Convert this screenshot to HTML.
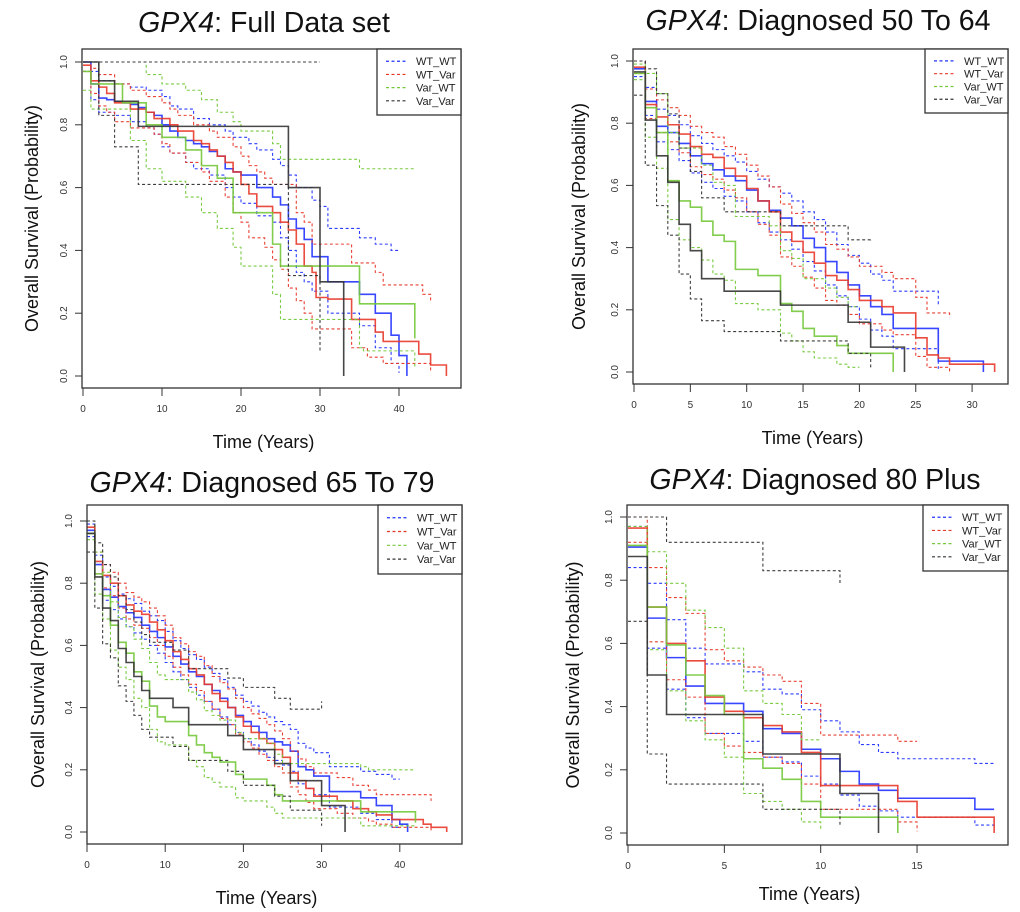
<!DOCTYPE html>
<html><head><meta charset="utf-8"><style>
html,body{margin:0;padding:0;background:#fff;}
svg{display:block;}
.tt{font-family:"Liberation Sans",sans-serif;font-size:28.5px;fill:#111;}
.ax{font-family:"Liberation Sans",sans-serif;font-size:18px;fill:#111;}
.tk{font-family:"Liberation Sans",sans-serif;font-size:10px;fill:#333;}
.lg{font-family:"Liberation Sans",sans-serif;font-size:11px;fill:#222;}
</style></head><body>
<svg id="chart" width="1020" height="912" viewBox="0 0 1020 912" xmlns="http://www.w3.org/2000/svg"></svg>
<script>
// ---- Panel 1: Full data set ----
const p1_WTWT = [[0,1],[1,0.93],[2,0.885],[3,0.88],[4,0.875],[5,0.87],[6,0.865],[7,0.855],[8,0.84],[9,0.83],[10,0.8],[11,0.78],[12,0.76],[13,0.75],[14,0.74],[15,0.73],[16,0.715],[17,0.7],[18,0.66],[19,0.65],[20,0.64],[22,0.6],[24,0.57],[25,0.545],[26,0.5],[27,0.47],[28,0.435],[29,0.38],[31,0.3],[35,0.26],[37,0.2],[39,0.13],[40,0.065],[41,0]];
const p1_WTWT_hi = [[0,1],[1,0.97],[2,0.94],[4,0.93],[6,0.92],[8,0.91],[10,0.89],[11,0.86],[12,0.85],[14,0.82],[16,0.8],[18,0.78],[19,0.76],[21,0.74],[22,0.72],[24,0.69],[25,0.67],[26,0.64],[27,0.6],[29,0.56],[30,0.54],[31,0.47],[35,0.44],[37,0.42],[39,0.4],[40,0.4]];
const p1_WTWT_lo = [[0,0.97],[1,0.88],[2,0.84],[4,0.83],[6,0.81],[8,0.79],[9,0.77],[10,0.73],[11,0.71],[13,0.68],[14,0.66],[16,0.64],[18,0.6],[19,0.57],[20,0.55],[22,0.51],[24,0.49],[25,0.44],[26,0.4],[27,0.33],[28,0.3],[29,0.27],[31,0.2],[35,0.16],[37,0.09],[39,0.04],[40,0.01]];
const p1_WTVar = [[0,0.99],[1,0.94],[2,0.92],[3,0.9],[4,0.87],[6,0.85],[8,0.84],[9,0.82],[11,0.8],[12,0.78],[14,0.75],[15,0.74],[16,0.72],[17,0.7],[18,0.68],[19,0.65],[20,0.61],[21,0.58],[22,0.54],[24,0.52],[25,0.49],[26,0.465],[27,0.42],[28,0.35],[29,0.33],[29.5,0.25],[31,0.245],[34,0.18],[37,0.14],[38,0.11],[42.5,0.07],[44,0.035],[46,0]];
const p1_WTVar_hi = [[0,1],[1,0.98],[2,0.96],[4,0.93],[6,0.91],[8,0.89],[10,0.87],[11,0.85],[12,0.83],[14,0.8],[16,0.78],[17,0.76],[19,0.73],[20,0.7],[21,0.67],[22,0.65],[23,0.63],[24,0.61],[27,0.52],[28,0.49],[29,0.42],[34,0.36],[37,0.33],[38,0.29],[43,0.26],[44,0.24]];
const p1_WTVar_lo = [[0,0.97],[1,0.9],[2,0.86],[3,0.84],[4,0.81],[6,0.79],[9,0.77],[10,0.74],[11,0.71],[13,0.68],[15,0.65],[16,0.62],[18,0.57],[19,0.52],[20,0.49],[21,0.44],[23,0.41],[24,0.37],[25,0.34],[26,0.28],[27,0.24],[28,0.2],[29,0.15],[34,0.09],[36,0.06],[38,0.04],[44,0.01]];
const p1_VarWT = [[0,0.97],[1,0.93],[5,0.87],[8,0.8],[10,0.76],[13,0.72],[15,0.67],[17,0.63],[19,0.52],[24,0.42],[25,0.35],[35,0.23],[42,0.12]];
const p1_VarWT_hi = [[0,1],[8,0.96],[10,0.93],[13,0.91],[15,0.88],[17,0.84],[19,0.81],[20,0.78],[24,0.74],[25,0.69],[35,0.66],[42,0.66]];
const p1_VarWT_lo = [[0,0.91],[1,0.85],[6,0.75],[8,0.66],[10,0.62],[13,0.57],[15,0.52],[17,0.47],[19,0.41],[20,0.35],[24,0.26],[25,0.18],[35,0.09],[35.5,0.08],[42,0.03]];
const p1_VarVar = [[0,1],[2,0.94],[4,0.875],[7,0.795],[26,0.6],[30,0.3],[33,0]];
const p1_VarVar_hi = [[0,1],[30,1]];
const p1_VarVar_lo = [[0,1],[2,0.83],[4,0.73],[7,0.61],[26,0.32],[30,0.08]];

// ---- Panel 2: Diagnosed 50 to 64 ----
const p2_WTWT = [[0,0.975],[1,0.87],[2,0.79],[3,0.77],[4,0.735],[5,0.695],[6,0.67],[7,0.65],[8,0.63],[9,0.615],[10,0.585],[11,0.55],[12,0.52],[13,0.495],[14,0.47],[15,0.43],[16,0.4],[17,0.355],[18,0.32],[19,0.28],[20,0.245],[21,0.21],[22,0.185],[23,0.14],[27,0.035],[31,0]];
const p2_WTWT_hi = [[0,1],[1,0.915],[2,0.845],[3,0.825],[4,0.795],[5,0.76],[6,0.735],[7,0.715],[8,0.695],[9,0.675],[10,0.645],[11,0.62],[12,0.595],[13,0.575],[14,0.55],[15,0.515],[16,0.49],[17,0.45],[18,0.41],[19,0.375],[20,0.35],[21,0.315],[22,0.295],[23,0.26],[27,0.21]];
const p2_WTWT_lo = [[0,0.95],[1,0.825],[2,0.74],[3,0.715],[4,0.68],[5,0.64],[6,0.61],[7,0.59],[8,0.565],[9,0.55],[10,0.515],[11,0.48],[12,0.45],[13,0.425],[14,0.395],[15,0.355],[16,0.325],[17,0.28],[18,0.245],[19,0.21],[20,0.17],[21,0.135],[22,0.115],[23,0.075],[27,0.01]];
const p2_WTVar = [[0,0.98],[1,0.86],[2,0.82],[3,0.795],[4,0.765],[5,0.725],[6,0.7],[7,0.69],[8,0.655],[9,0.63],[10,0.59],[11,0.55],[12,0.515],[13,0.45],[14,0.42],[15,0.385],[16,0.35],[17,0.31],[18,0.295],[19,0.265],[20,0.23],[22,0.21],[23,0.19],[25,0.11],[26,0.055],[27,0.045],[28,0.025],[32,0]];
const p2_WTVar_hi = [[0,1],[1,0.91],[2,0.875],[3,0.85],[4,0.825],[5,0.79],[6,0.77],[7,0.755],[8,0.725],[9,0.7],[10,0.665],[11,0.63],[12,0.595],[13,0.54],[14,0.51],[15,0.48],[16,0.45],[17,0.41],[18,0.395],[19,0.37],[20,0.34],[22,0.32],[23,0.3],[25,0.24],[26,0.19],[28,0.175]];
const p2_WTVar_lo = [[0,0.96],[1,0.815],[2,0.77],[3,0.74],[4,0.705],[5,0.66],[6,0.635],[7,0.62],[8,0.585],[9,0.56],[10,0.515],[11,0.475],[12,0.44],[13,0.37],[14,0.34],[15,0.305],[16,0.27],[17,0.23],[18,0.215],[19,0.185],[20,0.155],[22,0.135],[23,0.12],[25,0.05],[26,0.015],[28,0]];
const p2_VarWT = [[0,0.96],[1,0.85],[2,0.77],[3,0.615],[4,0.55],[5,0.53],[6,0.485],[7,0.44],[8,0.42],[9,0.33],[11,0.31],[13,0.22],[14,0.195],[15,0.14],[16,0.115],[18,0.085],[19,0.06],[23,0]];
const p2_VarWT_hi = [[0,0.99],[1,0.96],[2,0.895],[3,0.77],[4,0.72],[6,0.665],[7,0.61],[8,0.6],[9,0.5],[12,0.47],[13,0.39],[14,0.365],[15,0.3],[17,0.27],[18,0.24],[19,0.21],[20,0.21]];
const p2_VarWT_lo = [[0,0.94],[1,0.755],[2,0.655],[3,0.49],[4,0.425],[5,0.4],[6,0.36],[7,0.315],[8,0.295],[9,0.22],[11,0.2],[13,0.125],[14,0.1],[15,0.065],[16,0.045],[18,0.025],[19,0.015],[20,0.015]];
const p2_VarVar = [[0,0.965],[1,0.81],[2,0.695],[3,0.61],[4,0.475],[5,0.39],[6,0.3],[8,0.26],[13,0.215],[19,0.16],[21,0.08],[24,0]];
const p2_VarVar_hi = [[0,1],[1,0.975],[2,0.895],[3,0.83],[4,0.72],[5,0.645],[6,0.56],[8,0.515],[13,0.47],[19,0.425],[21,0.43]];
const p2_VarVar_lo = [[0,0.89],[1,0.665],[2,0.535],[3,0.44],[4,0.315],[5,0.235],[6,0.165],[8,0.13],[13,0.1],[19,0.06],[21,0.015]];

// ---- Panel 3: Diagnosed 65 to 79 ----
const p3_WTWT = [[0,0.97],[1,0.86],[2,0.78],[3,0.755],[4,0.725],[5,0.705],[6,0.69],[7,0.665],[8,0.645],[9,0.625],[10,0.595],[11,0.565],[12,0.54],[13,0.515],[14,0.5],[15,0.475],[16,0.455],[17,0.43],[18,0.4],[19,0.375],[20,0.355],[21,0.34],[22,0.32],[23,0.3],[24,0.29],[25,0.28],[26,0.26],[27,0.21],[28,0.2],[29,0.18],[31,0.13],[35,0.11],[37,0.085],[39,0.04],[40,0.025],[41,0]];
const p3_WTWT_hi = [[0,0.99],[1,0.89],[2,0.82],[3,0.79],[4,0.765],[5,0.75],[6,0.735],[7,0.71],[8,0.695],[9,0.68],[10,0.645],[11,0.615],[12,0.59],[13,0.57],[14,0.555],[15,0.53],[16,0.51],[17,0.49],[18,0.465],[19,0.44],[20,0.42],[21,0.405],[22,0.385],[23,0.37],[24,0.355],[25,0.345],[26,0.33],[27,0.285],[28,0.27],[29,0.255],[31,0.21],[35,0.195],[37,0.185],[39,0.17],[40,0.17]];
const p3_WTWT_lo = [[0,0.95],[1,0.83],[2,0.745],[3,0.715],[4,0.685],[5,0.66],[6,0.64],[7,0.62],[8,0.6],[9,0.575],[10,0.545],[11,0.515],[12,0.49],[13,0.465],[14,0.44],[15,0.42],[16,0.395],[17,0.37],[18,0.345],[19,0.32],[20,0.3],[21,0.28],[22,0.26],[23,0.24],[24,0.23],[25,0.215],[26,0.195],[27,0.155],[28,0.14],[29,0.12],[31,0.08],[35,0.06],[37,0.04],[39,0.015],[40,0.01]];
const p3_WTVar = [[0,0.98],[1,0.87],[2,0.825],[3,0.8],[4,0.76],[5,0.73],[6,0.71],[7,0.7],[8,0.675],[9,0.65],[10,0.615],[11,0.58],[12,0.555],[13,0.525],[14,0.505],[15,0.475],[16,0.445],[17,0.42],[18,0.4],[19,0.37],[20,0.34],[21,0.32],[22,0.3],[23,0.285],[24,0.265],[25,0.24],[26,0.19],[27,0.165],[28,0.14],[29,0.115],[32,0.1],[34,0.075],[36,0.065],[37,0.055],[39,0.04],[43,0.025],[44,0.015],[46,0]];
const p3_WTVar_hi = [[0,1],[1,0.9],[2,0.86],[3,0.835],[4,0.8],[5,0.77],[6,0.755],[7,0.74],[8,0.72],[9,0.695],[10,0.665],[11,0.625],[12,0.605],[13,0.58],[14,0.565],[15,0.535],[16,0.5],[17,0.48],[18,0.46],[19,0.43],[20,0.4],[21,0.38],[22,0.365],[23,0.345],[24,0.325],[25,0.3],[26,0.26],[27,0.235],[28,0.21],[29,0.19],[32,0.175],[34,0.15],[36,0.135],[37,0.12],[43,0.12],[44,0.1]];
const p3_WTVar_lo = [[0,0.96],[1,0.83],[2,0.785],[3,0.76],[4,0.72],[5,0.685],[6,0.665],[7,0.655],[8,0.625],[9,0.6],[10,0.565],[11,0.53],[12,0.505],[13,0.475],[14,0.455],[15,0.42],[16,0.395],[17,0.365],[18,0.345],[19,0.315],[20,0.29],[21,0.27],[22,0.25],[23,0.23],[24,0.21],[25,0.19],[26,0.145],[27,0.12],[28,0.095],[29,0.075],[32,0.06],[34,0.045],[36,0.035],[37,0.025],[39,0.015],[44,0.005]];
const p3_VarWT = [[0,0.96],[1,0.83],[2,0.76],[3,0.665],[4,0.61],[5,0.575],[6,0.515],[7,0.485],[8,0.405],[9,0.37],[10,0.355],[13,0.31],[14,0.28],[15,0.255],[16,0.24],[17,0.225],[19,0.185],[20,0.17],[23,0.15],[24,0.12],[25,0.1],[35,0.065],[42,0.03]];
const p3_VarWT_hi = [[0,1],[1,0.9],[2,0.835],[3,0.74],[4,0.69],[5,0.66],[6,0.62],[7,0.59],[8,0.545],[9,0.505],[10,0.49],[13,0.45],[14,0.425],[15,0.39],[16,0.375],[17,0.36],[19,0.32],[20,0.3],[23,0.285],[24,0.25],[25,0.22],[35,0.21],[36,0.2],[42,0.2]];
const p3_VarWT_lo = [[0,0.94],[1,0.765],[2,0.685],[3,0.585],[4,0.53],[5,0.49],[6,0.43],[7,0.4],[8,0.33],[9,0.29],[10,0.28],[13,0.23],[14,0.21],[15,0.175],[16,0.16],[17,0.145],[19,0.11],[20,0.1],[23,0.08],[24,0.06],[25,0.045],[35,0.02],[42,0.015]];
const p3_VarVar = [[0,0.96],[1,0.82],[2,0.72],[3,0.68],[4,0.59],[5,0.545],[6,0.5],[7,0.455],[8,0.43],[11,0.4],[13,0.345],[18,0.31],[20,0.265],[24,0.22],[26,0.165],[30,0.085],[33,0]];
const p3_VarVar_hi = [[0,1],[1,0.93],[2,0.86],[3,0.82],[4,0.76],[5,0.715],[6,0.675],[7,0.635],[8,0.61],[11,0.585],[13,0.525],[18,0.495],[20,0.465],[24,0.43],[26,0.395],[30,0.42]];
const p3_VarVar_lo = [[0,0.9],[1,0.72],[2,0.605],[3,0.56],[4,0.47],[5,0.42],[6,0.375],[7,0.33],[8,0.305],[11,0.275],[13,0.23],[18,0.195],[20,0.15],[24,0.115],[26,0.07],[30,0.02]];

// ---- Panel 4: Diagnosed 80 plus ----
const p4_WTWT = [[0,0.905],[1,0.68],[2,0.555],[3,0.465],[4,0.41],[6,0.385],[7,0.33],[8,0.315],[9,0.265],[10,0.235],[11,0.195],[12,0.155],[13,0.135],[14,0.11],[18,0.075],[19,0.075]];
const p4_WTWT_hi = [[0,0.97],[1,0.79],[2,0.675],[3,0.585],[4,0.535],[6,0.51],[7,0.455],[8,0.44],[9,0.39],[10,0.355],[11,0.32],[12,0.28],[13,0.255],[14,0.235],[18,0.22],[19,0.22]];
const p4_WTWT_lo = [[0,0.84],[1,0.585],[2,0.455],[3,0.365],[4,0.315],[6,0.29],[7,0.24],[8,0.225],[9,0.18],[10,0.155],[11,0.12],[12,0.085],[13,0.07],[14,0.05],[18,0.025],[19,0.02]];
const p4_WTVar = [[0,0.965],[1,0.715],[2,0.6],[3,0.545],[4,0.43],[5,0.385],[6,0.365],[7,0.34],[8,0.32],[9,0.255],[10,0.15],[14,0.1],[15,0.05],[19,0]];
const p4_WTVar_hi = [[0,1],[1,0.84],[2,0.745],[3,0.695],[4,0.58],[5,0.545],[6,0.525],[7,0.5],[8,0.48],[9,0.41],[10,0.31],[14,0.29],[15,0.29]];
const p4_WTVar_lo = [[0,0.92],[1,0.605],[2,0.485],[3,0.43],[4,0.315],[5,0.275],[6,0.255],[7,0.24],[8,0.22],[9,0.155],[10,0.075],[14,0.035],[15,0.005]];
const p4_VarWT = [[0,0.91],[1,0.715],[2,0.595],[3,0.5],[4,0.435],[5,0.375],[6,0.235],[7,0.205],[8,0.17],[9,0.1],[10,0.05],[14,0]];
const p4_VarWT_hi = [[0,0.97],[1,0.89],[2,0.79],[3,0.705],[4,0.65],[5,0.585],[6,0.45],[7,0.41],[8,0.375],[9,0.295],[10,0.295]];
const p4_VarWT_lo = [[0,0.91],[1,0.58],[2,0.45],[3,0.355],[4,0.295],[5,0.24],[6,0.125],[7,0.1],[8,0.075],[9,0.035],[10,0.01]];
const p4_VarVar = [[0,0.875],[1,0.5],[2,0.375],[7,0.25],[11,0.125],[13,0]];
const p4_VarVar_hi = [[0,1],[2,0.92],[7,0.83],[11,0.79]];
const p4_VarVar_lo = [[0,0.67],[1,0.25],[2,0.155],[7,0.075],[11,0.02]];

const seriesNames = ["WT_WT","WT_Var","Var_WT","Var_Var"];
const seriesColors = ["#2233ff","#e8382a","#74c83a","#333333"];
const yTicks = [0,0.2,0.4,0.6,0.8,1.0];
const yTickLabels = ["0.0","0.2","0.4","0.6","0.8","1.0"];
const p1_xTicks = [0,10,20,30,40];
const p2_xTicks = [0,5,10,15,20,25,30];
const p3_xTicks = [0,10,20,30,40];
const p4_xTicks = [0,5,10,15];
const titles = ["Full Data set","Diagnosed 50 To 64","Diagnosed 65 To 79","Diagnosed 80 Plus"];

const NS="http://www.w3.org/2000/svg";
const svg=document.getElementById('chart');
function mk(tag,attrs,parent){const e=document.createElementNS(NS,tag);for(const k in attrs)e.setAttribute(k,attrs[k]);(parent||svg).appendChild(e);return e;}

const panels=[
 {box:[82,49,461,388],x0:83,xs:7.9,y1:62,y0:376,xt:p1_xTicks,leg:[377,49,461,115],tx:264,ty:32,yl:31,xl:448,
  curves:[[p1_WTWT,p1_WTWT_hi,p1_WTWT_lo],[p1_WTVar,p1_WTVar_hi,p1_WTVar_lo],[p1_VarWT,p1_VarWT_hi,p1_VarWT_lo],[p1_VarVar,p1_VarVar_hi,p1_VarVar_lo]]},
 {box:[633,49,1008,384],x0:634,xs:11.27,y1:61,y0:372,xt:p2_xTicks,leg:[925,49,1008,113],tx:818,ty:30,yl:578,xl:444,
  curves:[[p2_WTWT,p2_WTWT_hi,p2_WTWT_lo],[p2_WTVar,p2_WTVar_hi,p2_WTVar_lo],[p2_VarWT,p2_VarWT_hi,p2_VarWT_lo],[p2_VarVar,p2_VarVar_hi,p2_VarVar_lo]]},
 {box:[87,505,462,844],x0:87,xs:7.82,y1:521,y0:832,xt:p3_xTicks,leg:[378,505,462,574],tx:262,ty:492,yl:37,xl:904,
  curves:[[p3_WTWT,p3_WTWT_hi,p3_WTWT_lo],[p3_WTVar,p3_WTVar_hi,p3_WTVar_lo],[p3_VarWT,p3_VarWT_hi,p3_VarWT_lo],[p3_VarVar,p3_VarVar_hi,p3_VarVar_lo]]},
 {box:[627,505,1008,845],x0:628,xs:19.27,y1:517,y0:833,xt:p4_xTicks,leg:[923,505,1008,571],tx:815,ty:489,yl:572,xl:900,
  curves:[[p4_WTWT,p4_WTWT_hi,p4_WTWT_lo],[p4_WTVar,p4_WTVar_hi,p4_WTVar_lo],[p4_VarWT,p4_VarWT_hi,p4_VarWT_lo],[p4_VarVar,p4_VarVar_hi,p4_VarVar_lo]]}
];

panels.forEach((p,pi)=>{
  const g=mk('g',{});
  
  
  const X=t=>p.x0+t*p.xs, Y=s=>p.y0-s*(p.y0-p.y1);
  const [l,t,r,b]=p.box;
  const title=mk('text',{x:p.tx,y:p.ty,'text-anchor':'middle',class:'tt'},g);
  
  
  const it=mk('tspan',{'font-style':'italic'},title); it.textContent='GPX4';
  const rest=mk('tspan',{},title); rest.textContent=': '+titles[pi];
  p.curves.forEach((c,ci)=>{
    [1,2,0].forEach(k=>{
      const d=c[k]; let path='M'+X(d[0][0])+' '+Y(d[0][1]);
      for(let i=1;i<d.length;i++){path+=' H'+X(d[i][0])+' V'+Y(d[i][1]);}
      const e=mk('path',{d:path,fill:'none',stroke:seriesColors[ci],'stroke-width':k===0?1.6:1.1,'stroke-dasharray':k===0?'none':'3,2.5',opacity:k===0?0.9:0.95},g);
      
      
    });
  });
  const bx=mk('rect',{x:l,y:t,width:r-l,height:b-t,fill:'none',stroke:'#333','stroke-width':1.3},g);
  
  
  p.xt.forEach(v=>{
    mk('line',{x1:X(v),x2:X(v),y1:b,y2:b+8,stroke:'#333','stroke-width':1},g);
    const tx=mk('text',{x:X(v),y:b+24,'text-anchor':'middle',class:'tk'},g);
    
    
    tx.textContent=v;
  });
  yTicks.forEach((v,i)=>{
    mk('line',{x1:l-7,x2:l,y1:Y(v),y2:Y(v),stroke:'#333','stroke-width':1},g);
    const yy=Y(v), xx=l-15;
    const tx=mk('text',{x:xx,y:yy,'text-anchor':'middle',class:'tk',transform:`rotate(-90 ${xx} ${yy})`},g);
    
    
    tx.textContent=yTickLabels[i];
  });
  const cy=(t+b)/2;
  const yt=mk('text',{x:p.yl+7,y:cy,'text-anchor':'middle',class:'ax',transform:`rotate(-90 ${p.yl+7} ${cy})`},g);
  
  
  yt.textContent='Overall Survival (Probability)';
  const xt=mk('text',{x:(l+r)/2-8,y:p.xl,'text-anchor':'middle',class:'ax'},g);
  
  
  xt.textContent='Time (Years)';
  const [ll,lt,lr,lb]=p.leg;
  const lg=mk('g',{},g);
  
  
  mk('rect',{x:ll,y:lt,width:lr-ll,height:lb-lt,fill:'#fff',stroke:'#333','stroke-width':1.3},lg);
  const step=(lb-lt)/5;
  seriesNames.forEach((n,i)=>{
    const yy=lt+step*(i+0.85)+1;
    const ent=mk('g',{},lg);
    
    
    mk('line',{x1:ll+9,x2:ll+30,y1:yy,y2:yy,stroke:seriesColors[i],'stroke-width':1.2,'stroke-dasharray':'3,2.5'},ent);
    const tx=mk('text',{x:ll+39,y:yy+4,class:'lg'},ent); tx.textContent=n;
  });
});
</script>
</body></html>
